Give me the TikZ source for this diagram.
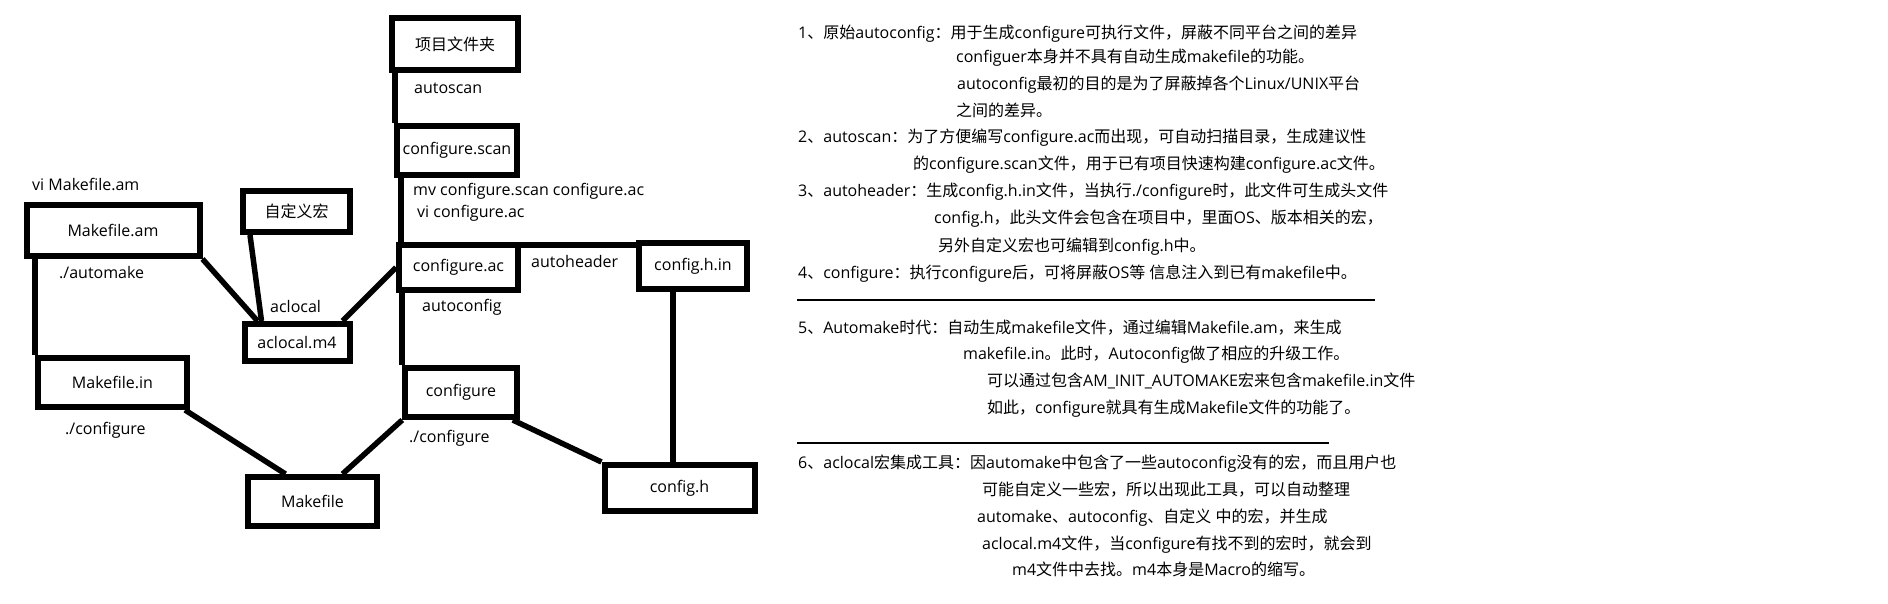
\documentclass[tikz,border=0pt]{standalone}
\usepackage{fontspec}
\setmainfont{Open Sans}
\newfontfamily\cjkfont{Noto Sans CJK SC}
\XeTeXinterchartokenstate=1
\count255="3000
\loop
  \XeTeXcharclass\count255=7
  \ifnum\count255<"9FFF \advance\count255 by 1 \repeat
\count255="FF00
\loop
  \XeTeXcharclass\count255=7
  \ifnum\count255<"FFEF \advance\count255 by 1 \repeat
\XeTeXinterchartoks 0 7 = {\cjkfont}
\XeTeXinterchartoks 4095 7 = {\cjkfont}
\XeTeXinterchartoks 7 0 = {\rmfamily}
\XeTeXinterchartoks 7 4095 = {\rmfamily}
\tikzset{
  every node/.style={font=\fontsize{16}{19}\selectfont, inner sep=0pt},
  box/.style={draw, line width=6pt, align=center},
  conn/.style={line width=5.5pt},
  lbl/.style={anchor=base west},
  rule/.style={line width=1.3pt}
}
\begin{document}
\begin{tikzpicture}[x=1pt,y=-1pt]
\fill[white] (0,0) rectangle (1888,604);
\useasboundingbox (0,0) rectangle (1888,604);
% boxes
\node[box, minimum width=126pt, minimum height=52pt] (proj) at (455,44) {项目文件夹};
\node[box, minimum width=120pt, minimum height=49pt] (scan) at (457,150.5) {configure.scan};
\node[box, minimum width=119pt, minimum height=45pt] (ac) at (458.5,267.5) {configure.ac};
\node[box, minimum width=108pt, minimum height=46pt] (hin) at (693,266) {config.h.in};
\node[box, minimum width=173pt, minimum height=51pt] (mam) at (113,230.5) {Makefile.am};
\node[box, minimum width=107pt, minimum height=41pt] (zdy) at (296.5,211.5) {自定义宏};
\node[box, minimum width=105pt, minimum height=37pt] (m4) at (297,342.5) {aclocal.m4};
\node[box, minimum width=149pt, minimum height=49pt] (min) at (112.5,382.5) {Makefile.in};
\node[box, minimum width=111.5pt, minimum height=49pt] (conf) at (461,392.5) {configure};
\node[box, minimum width=129pt, minimum height=49pt] (mk) at (312.5,501.5) {Makefile};
\node[box, minimum width=150pt, minimum height=46pt] (ch) at (679.5,488) {config.h};
% connectors
\draw[conn] ([xshift=6pt]proj.south west) -- ([xshift=6pt]proj.south west |- scan.north);
\draw[conn] ([xshift=7pt]scan.south west) -- ([xshift=7pt]scan.south west |- ac.north);
\draw[conn] ([xshift=6pt]ac.south west) -- ([xshift=6pt]ac.south west |- conf.north);
\draw[conn] ([yshift=-3pt]ac.north east) -- ([yshift=-3pt]ac.north east -| hin.west);
\draw[conn] ([xshift=-20pt]hin.south) -- ([xshift=-20pt]hin.south |- ch.north);
\draw[conn] ([xshift=11.5pt]mam.south west) -- ([xshift=11.5pt]mam.south west |- min.north);
\draw[conn] (mam.south east) -- ([xshift=16pt]m4.north west);
\draw[conn] ([xshift=10pt]zdy.south west) -- ([xshift=20pt]m4.north west);
\draw[conn] (ac.west) -- ([xshift=-10pt]m4.north east);
\draw[conn] ([xshift=-5pt]min.south east) -- ([xshift=-27pt]mk.north);
\draw[conn] (conf.south west) -- ([xshift=30pt]mk.north);
\draw[conn] ([xshift=-7pt]conf.south east) -- (ch.north west);
% connector labels
\node[lbl] (l-autoscan) at (414,94) {autoscan};
\node[lbl] (l-mv) at (413,196) {mv configure.scan configure.ac};
\node[lbl] (l-vi) at (417,218) {vi configure.ac};
\node[lbl] (l-autoheader) at (531,268) {autoheader};
\node[lbl] (l-vimam) at (32,191) {vi Makefile.am};
\node[lbl] (l-automake) at (59,279) {./automake};
\node[lbl] (l-aclocal) at (270,312) {aclocal};
\node[lbl] (l-autoconfig) at (422,311) {autoconfig};
\node[lbl] (l-conf1) at (65,434) {./configure};
\node[lbl] (l-conf2) at (409,442) {./configure};
% right panel text
\node[lbl] (t1) at (798,39) {1、原始autoconfig：用于生成configure可执行文件，屏蔽不同平台之间的差异};
\node[lbl] (t2) at (956,63) {configuer本身并不具有自动生成makefile的功能。};
\node[lbl] (t3) at (957,90) {autoconfig最初的目的是为了屏蔽掉各个Linux/UNIX平台};
\node[lbl] (t4) at (956,117) {之间的差异。};
\node[lbl] (t5) at (798,143) {2、autoscan：为了方便编写configure.ac而出现，可自动扫描目录，生成建议性};
\node[lbl] (t6) at (913,170) {的configure.scan文件，用于已有项目快速构建configure.ac文件。};
\node[lbl] (t7) at (798,197) {3、autoheader：生成config.h.in文件，当执行./configure时，此文件可生成头文件};
\node[lbl] (t8) at (934,224) {config.h，此头文件会包含在项目中，里面OS、版本相关的宏，};
\node[lbl] (t9) at (938,252) {另外自定义宏也可编辑到config.h中。};
\node[lbl] (t10) at (798,278) {4、configure：执行configure后，可将屏蔽OS等 信息注入到已有makefile中。};
\coordinate (r1a) at (797,300);
\coordinate (r1b) at (1375,300);
\draw[rule] (r1a) -- (r1b);
\node[lbl] (t11) at (798,333) {5、Automake时代：自动生成makefile文件，通过编辑Makefile.am，来生成};
\node[lbl] (t12) at (963,359) {makefile.in。此时，Autoconfig做了相应的升级工作。};
\node[lbl] (t13) at (987,386) {可以通过包含AM\_INIT\_AUTOMAKE宏来包含makefile.in文件};
\node[lbl] (t14) at (987,413) {如此，configure就具有生成Makefile文件的功能了。};
\coordinate (r2a) at (797,443);
\coordinate (r2b) at (1329,443);
\draw[rule] (r2a) -- (r2b);
\node[lbl] (t15) at (798,468) {6、aclocal宏集成工具：因automake中包含了一些autoconfig没有的宏，而且用户也};
\node[lbl] (t16) at (982,495) {可能自定义一些宏，所以出现此工具，可以自动整理};
\node[lbl] (t17) at (977,522) {automake、autoconfig、自定义 中的宏，并生成};
\node[lbl] (t18) at (982,549) {aclocal.m4文件，当configure有找不到的宏时，就会到};
\node[lbl] (t19) at (1012,575) {m4文件中去找。m4本身是Macro的缩写。};
\end{tikzpicture}
\end{document}
